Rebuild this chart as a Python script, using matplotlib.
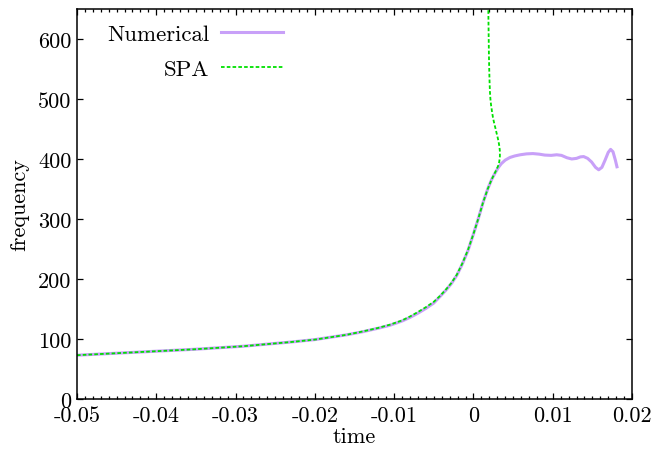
import matplotlib
matplotlib.use('Agg')
import matplotlib.pyplot as plt
from matplotlib.ticker import MultipleLocator

# numerical frequency vs time
num_t = [-0.050, -0.047, -0.044, -0.041, -0.038, -0.035, -0.032, -0.029, -0.026,
         -0.023, -0.020, -0.018, -0.016, -0.014, -0.012, -0.0105, -0.009, -0.008,
         -0.007, -0.006, -0.005, -0.0042, -0.0035, -0.0028, -0.0021, -0.0014,
         -0.0007, 0.0, 0.0006, 0.0012, 0.0018, 0.0023, 0.0027, 0.0031, 0.0035,
         0.0040, 0.0046, 0.0052, 0.0059, 0.0067, 0.0075, 0.0083, 0.0090, 0.0098,
         0.0105, 0.0111, 0.0118, 0.0124, 0.0130, 0.0135, 0.0139, 0.0144, 0.0149,
         0.0154, 0.0158, 0.0162, 0.0166, 0.0170, 0.0173, 0.0176, 0.0179, 0.0181]
num_f = [73, 75, 77, 79, 81, 83, 85.5, 88, 91.5,
         95, 99, 103, 107, 112, 118, 123, 130, 136,
         143, 151, 160, 171, 181, 192, 206, 225,
         247, 275, 300, 327, 350, 366, 376, 385, 392,
         398, 402.5, 405, 407, 408.5, 409, 408, 406.5, 406,
         407, 406, 402, 400, 401, 403.5, 404, 401, 395,
         386, 382, 386, 398, 411, 416, 412, 398, 387]

# stationary phase approximation
spa_t = [-0.050, -0.047, -0.044, -0.041, -0.038, -0.035, -0.032, -0.029, -0.026,
         -0.023, -0.020, -0.018, -0.016, -0.014, -0.012, -0.0105, -0.009, -0.008,
         -0.007, -0.006, -0.005, -0.0042, -0.0035, -0.0028, -0.0021, -0.0014,
         -0.0007, 0.0, 0.0006, 0.0012, 0.0018, 0.0023, 0.0026, 0.0029, 0.0031,
         0.00325, 0.00333, 0.00334, 0.00328, 0.00318, 0.00305, 0.00292, 0.00280,
         0.00268, 0.00256, 0.00245, 0.00233, 0.00222, 0.00214, 0.00208, 0.00203,
         0.00199, 0.00195, 0.00192, 0.00189, 0.00186]
spa_f = [73, 75, 77, 79, 81, 83, 85.5, 88, 91.5,
         95, 99, 103, 107, 112.5, 118.5, 124, 131, 137.5,
         145, 153, 162, 172, 182, 193, 207, 226,
         248, 275, 300, 327, 350, 366, 374, 382, 388,
         395, 403, 412, 420, 428, 436, 443, 450,
         456, 463, 470, 480, 490, 500, 512, 530,
         550, 575, 605, 635, 670]

xticks = [-0.05, -0.04, -0.03, -0.02, -0.01, 0, 0.01, 0.02]
xtick_labels = ['-0.05', '-0.04', '-0.03', '-0.02', '-0.01', '0', '0.01', '0.02']
yticks = [0, 100, 200, 300, 400, 500, 600]
ytick_labels = ['0', '100', '200', '300', '400', '500', '600']

plt.rcParams['font.family'] = ['cmr10', 'DejaVu Serif']
plt.rcParams['axes.unicode_minus'] = False
plt.rcParams['font.size'] = 16

fig = plt.figure(figsize=(6.54, 4.52), dpi=100)
ax = fig.add_axes([0.1177, 0.115, 0.8487, 0.863])

ax.plot(num_t, num_f, color='#c8a0f8', linewidth=2.2, label='Numerical')
ax.plot(spa_t, spa_f, color='#00e000', linewidth=1.3, linestyle=(0, (2, 1.2)), label='SPA')

ax.set_xlim(-0.05, 0.02)
ax.set_ylim(0, 650)
ax.set_xticks(xticks)
ax.set_xticklabels(xtick_labels)
ax.set_yticks(yticks)
ax.set_yticklabels(ytick_labels)
ax.xaxis.set_minor_locator(MultipleLocator(0.001))

ax.tick_params(which='both', direction='in', top=True, right=True, width=0.9)
ax.tick_params(which='major', length=4.5)
ax.tick_params(which='minor', length=2.3)
ax.tick_params(axis='x', pad=5)
ax.tick_params(axis='y', pad=4)
for s in ax.spines.values():
    s.set_linewidth(1.1)

ax.set_xlabel('time', labelpad=1)
ax.set_ylabel('frequency', labelpad=6)

leg = ax.legend(loc='upper left', bbox_to_anchor=(0.038, 0.986), frameon=False,
                markerfirst=False, handlelength=2.7, labelspacing=0.65,
                handletextpad=0.5, borderaxespad=0, fontsize=16.5)

fig.savefig('out.png', dpi=100)
